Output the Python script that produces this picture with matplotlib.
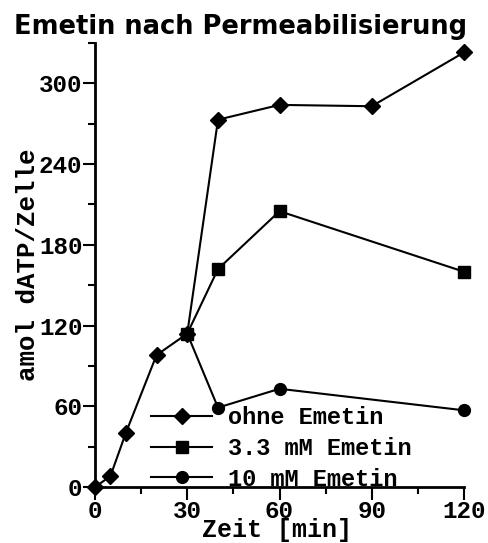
import matplotlib
matplotlib.use("Agg")
import matplotlib.pyplot as plt
from matplotlib.ticker import MultipleLocator

# Time points [min] and measured dATP per cell [amol]
time_ohne = [0, 5, 10, 20, 30, 40, 60, 90, 120]
ohne_emetin = [0, 8, 40, 98, 114, 273, 284, 283, 323]

time_emetin = [30, 40, 60, 120]
emetin_3_3 = [114, 162, 205, 160]
emetin_10 = [114, 59, 73, 57]

labels = ["ohne Emetin", "3.3 mM Emetin", "10 mM Emetin"]
title = "Emetin nach Permeabilisierung"
xlabel = "Zeit [min]"
ylabel = "amol dATP/Zelle"

mono = "Liberation Mono"

fig = plt.figure(figsize=(4.88, 5.43), dpi=100)
ax = fig.add_axes([95 / 488, 56 / 543, 369 / 488, 444 / 543])

style = dict(color="black", lw=1.5, clip_on=False, zorder=3)
l1, = ax.plot(time_ohne, ohne_emetin, marker="D", ms=8, **style)
l2, = ax.plot(time_emetin, emetin_3_3, marker="s", ms=8, **style)
l3, = ax.plot(time_emetin, emetin_10, marker="o", ms=8.5, **style)

ax.set_xlim(0, 120)
ax.set_ylim(0, 330)
ax.xaxis.set_major_locator(MultipleLocator(30))
ax.xaxis.set_minor_locator(MultipleLocator(15))
ax.yaxis.set_major_locator(MultipleLocator(60))
ax.yaxis.set_minor_locator(MultipleLocator(30))

for side in ("top", "right"):
    ax.spines[side].set_visible(False)
for side in ("left", "bottom"):
    ax.spines[side].set_linewidth(2)

ax.tick_params(which="major", length=9, width=1.5, direction="out")
ax.tick_params(axis="y", which="major", pad=0)
ax.tick_params(axis="x", which="major", pad=0)
ax.tick_params(which="minor", length=5, width=1.5, direction="out")
for lab in ax.get_xticklabels() + ax.get_yticklabels():
    lab.set_fontfamily(mono)
    lab.set_fontweight("bold")
    lab.set_fontsize(17.5)

ax.set_xlabel(xlabel, fontfamily=mono, fontweight="bold", fontsize=18, va="baseline")
ax.xaxis.set_label_coords(0.493, -0.113)
ax.set_ylabel(ylabel, fontfamily=mono, fontweight="bold", fontsize=18.5, labelpad=-1)
fig.text(241 / 488, 1 - 34 / 543, title, ha="center", va="baseline",
         fontfamily="DejaVu Sans", fontweight="bold", fontsize=18.5)

leg = ax.legend([l1, l2, l3], labels, loc="lower left",
                bbox_to_anchor=(0.12, -0.035), frameon=False,
                prop={"family": mono, "weight": "bold", "size": 17},
                handlelength=2.6, handletextpad=0.65, labelspacing=0.33,
                borderpad=0.0)

fig.savefig("out.png", dpi=100)
